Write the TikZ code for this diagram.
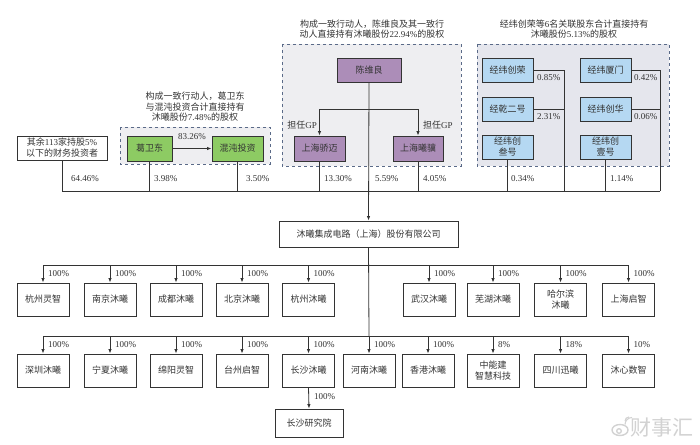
\documentclass[tikz,border=0pt]{standalone}
\usepackage{fontspec}
\setmainfont{Liberation Serif}
\newfontfamily\cjk{Noto Sans CJK SC}
\usetikzlibrary{arrows.meta}
\definecolor{txt}{HTML}{333333}
\definecolor{lnc}{HTML}{333333}
\definecolor{grpfill}{HTML}{EEEEF1}
\definecolor{grpfillb}{HTML}{E5E6ED}
\definecolor{grpline}{HTML}{5A6A88}
\definecolor{greenc}{HTML}{8DCB63}
\definecolor{purplec}{HTML}{AC8DB8}
\definecolor{bluec}{HTML}{B5D8F2}
\definecolor{wmark}{HTML}{D2D2D2}
\tikzset{
  base/.style={draw=lnc, line width=0.9pt, text=txt, align=center, inner sep=1pt,
    font=\cjk\fontsize{9}{11}\selectfont},
  plainbox/.style={base, fill=white, minimum width=52pt, minimum height=33pt},
  greenbox/.style={base, fill=greenc, minimum height=25pt},
  purplebox/.style={base, fill=purplec, minimum height=25pt},
  bluebox/.style={base, fill=bluec, minimum width=51pt, minimum height=24pt},
  groupbox/.style={draw=grpline, dashed, line width=0.8pt, fill=grpfill},
  conn/.style={draw=lnc, line width=0.8pt},
  arr/.style={conn, -{Latex[length=4.5pt,width=3.5pt]}},
  pct/.style={text=txt, inner sep=0pt, font=\fontsize{9}{10}\selectfont},
  captxt/.style={text=txt, align=center, inner sep=0pt, font=\fontsize{9}{10.5}\selectfont}
}
\begin{document}
\begin{tikzpicture}[x=1pt,y=-1pt]
\useasboundingbox (0,0) rectangle (700,444);
\fill[white] (0,0) rectangle (700,444);

% groups
\path[groupbox] (120,127) rectangle (270,164);
\path[groupbox] (282,44) rectangle (461,166);
\path[groupbox, fill=grpfillb] (477,44) rectangle (669,166);

% captions
\node[captxt] (cap1) at (195,107) {{\cjk 构成一致行动人，葛卫东}\\{\cjk 与混沌投资合计直接持有}\\{\cjk 沐曦股份}7.48\%{\cjk 的股权}};
\node[captxt] (cap2) at (372,29) {{\cjk 构成一致行动人，陈维良及其一致行}\\{\cjk 动人直接持有沐曦股份}22.94\%{\cjk 的股权}};
\node[captxt] (cap3) at (574,29) {{\cjk 经纬创荣等}6{\cjk 名关联股东合计直接持有}\\{\cjk 沐曦股份}5.13\%{\cjk 的股权}};

% top shareholders
\node[base, fill=white, minimum width=90pt, minimum height=24pt] (other) at (62,148) {其余\rmfamily 113\cjk 家持股\rmfamily 5\%\\\cjk 以下的财务投资者};
\node[greenbox, minimum width=45pt] (ge) at (149.5,148.5) {葛卫东};
\node[greenbox, minimum width=51pt] (hd) at (237.5,148.5) {混沌投资};
\node[purplebox, minimum width=64pt, minimum height=24pt] (chen) at (369,70) {陈维良};
\node[purplebox, minimum width=51pt] (jm) at (319.5,148.5) {上海骄迈};
\node[purplebox, minimum width=50pt] (xj) at (418,148.5) {上海曦骥};
\node[bluebox] (jwcr) at (507.5,70) {经纬创荣};
\node[bluebox] (jq2) at (507.5,109) {经乾二号};
\node[bluebox] (jwc3) at (507.5,147) {经纬创\\叁号};
\node[bluebox] (jwxm) at (605.5,70) {经纬厦门};
\node[bluebox] (jwch) at (605.5,109) {经纬创华};
\node[bluebox] (jwc1) at (605.5,147) {经纬创\\壹号};

% company
\node[base, fill=white, minimum width=179pt, minimum height=26pt] (co) at (368.5,234) {沐曦集成电路（上海）股份有限公司};

% bus coordinates
\coordinate (b1) at (62,191);
\coordinate (b2) at (149.5,191);
\coordinate (b3) at (237.5,191);
\coordinate (b4) at (319.5,191);
\coordinate (b5) at (418,191);
\coordinate (b6) at (507.5,191);
\coordinate (b7) at (564,191);
\coordinate (b8) at (605.5,191);
\coordinate (b9) at (660,191);
\coordinate (k1) at (564,70);
\coordinate (k2) at (660,70);
\coordinate (gpl) at (319.5,109);
\coordinate (gpr) at (418,109);

\draw[conn] (b1) -- (b9);
\draw[conn] (other.south) -- (b1);
\draw[conn] (ge.south) -- (b2);
\draw[conn] (hd.south) -- (b3);
\draw[conn] (jm.south) -- (b4);
\draw[conn] (xj.south) -- (b5);
\draw[conn] (jwc3.south) -- (b6);
\draw[conn] (jwc1.south) -- (b8);
\draw[conn] (jwcr.east) -- (k1) -- (b7);
\draw[conn] (jq2.east) -- (jq2.east -| k1);
\draw[conn] (jwxm.east) -- (k2) -- (b9);
\draw[conn] (jwch.east) -- (jwch.east -| k2);
\draw[arr] (ge.east) -- (hd.west);
\draw[arr] (chen.south) -- (co.north);
\draw[conn] (gpl) -- (gpr);
\draw[arr] (gpl) -- (jm.north);
\draw[arr] (gpr) -- (xj.north);

% top labels
\node[pct] at (192,137) {83.26\%};
\node[pct, anchor=east] at (317,125) {\cjk 担任\rmfamily GP};
\node[pct, anchor=west] at (423,125) {\cjk 担任\rmfamily GP};
\node[pct, anchor=west] at (71,179) {64.46\%};
\node[pct, anchor=west] at (154,179) {3.98\%};
\node[pct, anchor=west] at (246,179) {3.50\%};
\node[pct, anchor=west] at (324,179) {13.30\%};
\node[pct, anchor=west] at (375,179) {5.59\%};
\node[pct, anchor=west] at (423,179) {4.05\%};
\node[pct, anchor=west] at (511,179) {0.34\%};
\node[pct, anchor=west] at (610,179) {1.14\%};
\node[pct, anchor=west] at (537,78) {0.85\%};
\node[pct, anchor=west] at (537,117) {2.31\%};
\node[pct, anchor=west] at (634,78) {0.42\%};
\node[pct, anchor=west] at (634,117) {0.06\%};

% subsidiaries row 1
\node[plainbox] (r1a) at (43,299.5) {杭州灵智};
\node[plainbox] (r1b) at (110,299.5) {南京沐曦};
\node[plainbox] (r1c) at (176,299.5) {成都沐曦};
\node[plainbox] (r1d) at (242,299.5) {北京沐曦};
\node[plainbox] (r1e) at (308.5,299.5) {杭州沐曦};
\node[plainbox] (r1f) at (429,299.5) {武汉沐曦};
\node[plainbox] (r1g) at (493,299.5) {芜湖沐曦};
\node[plainbox] (r1h) at (560.5,299.5) {哈尔滨\\沐曦};
\node[plainbox] (r1i) at (628.5,299.5) {上海启智};

% row 2
\node[plainbox] (r2a) at (43,370.5) {深圳沐曦};
\node[plainbox] (r2b) at (110,370.5) {宁夏沐曦};
\node[plainbox] (r2c) at (176,370.5) {绵阳灵智};
\node[plainbox] (r2d) at (242,370.5) {台州启智};
\node[plainbox] (r2e) at (308.5,370.5) {长沙沐曦};
\node[plainbox] (r2f) at (369,370.5) {河南沐曦};
\node[plainbox] (r2g) at (428,370.5) {香港沐曦};
\node[plainbox] (r2h) at (493,370.5) {中能建\\智慧科技};
\node[plainbox] (r2i) at (560.5,370.5) {四川迅曦};
\node[plainbox] (r2j) at (628.5,370.5) {沐心数智};
\node[plainbox, minimum width=68pt, minimum height=28pt] (csy) at (309,423) {长沙研究院};

\coordinate (t1) at (369,265);
\coordinate (t2) at (369,336);
\draw[conn] (co.south) -- (t2);
\draw[conn] (r1a.north |- t1) -- (r1i.north |- t1);
\draw[conn] (r2a.north |- t2) -- (r2j.north |- t2);
\foreach \n in {r1a,r1b,r1c,r1d,r1e,r1f,r1g,r1h,r1i}{
  \draw[arr] (\n.north |- t1) -- (\n.north);
  \node[pct, anchor=west] at ([xshift=5pt]\n.north |- 0,274) {100\%};
}
\foreach \n/\p in {r2a/100,r2b/100,r2c/100,r2d/100,r2e/100,r2f/100,r2g/100,r2h/8,r2i/18,r2j/10}{
  \draw[arr] (\n.north |- t2) -- (\n.north);
  \node[pct, anchor=west] at ([xshift=5pt]\n.north |- 0,345) {\p\%};
}
\draw[arr] (r2e.south) -- (csy.north);
\node[pct, anchor=west] at (314,397) {100\%};

% watermark
\node[text=wmark, inner sep=0pt, font=\cjk\fontsize{21}{22}\selectfont, anchor=west] (wm) at (630,428) {财事汇};
\draw[wmark, line width=1.4pt] (620,430) ellipse (8pt and 5.5pt);
\draw[wmark, line width=1.3pt] (619,431) circle (2.3pt);
\draw[wmark, line width=1.1pt] (625,421) arc (180:90:4pt);
\draw[wmark, line width=1.1pt] (625,424.5) arc (180:90:7pt);
\end{tikzpicture}
\end{document}
